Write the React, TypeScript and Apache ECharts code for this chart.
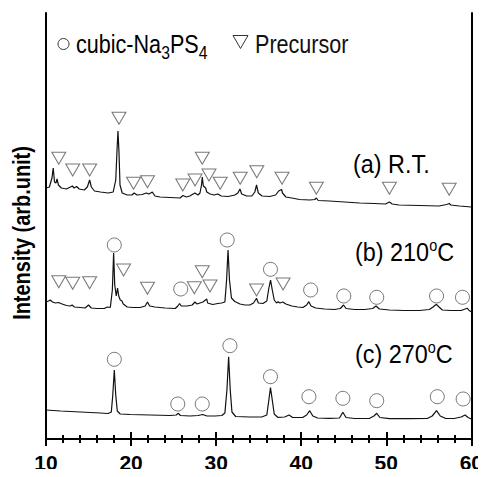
import React, { useEffect, useRef } from "react";
import * as echarts from "echarts";

// 2θ (deg) vs intensity (arb. unit)
const traceRT: number[][] = [
  [10, 251], [10.4, 252], [10.7, 261], [10.85, 271], [11.0, 257], [11.17, 256], [11.3, 260], [11.46, 254],
  [11.8, 251], [12.4, 250], [12.87, 252], [13.1, 253], [13.3, 251], [13.6, 252.5], [13.9, 250], [14.5, 249],
  [14.86, 252], [15.13, 259], [15.33, 252], [15.7, 248], [16.4, 247], [17.3, 246], [17.9, 247], [18.2, 259],
  [18.35, 289], [18.46, 308], [18.58, 287], [18.7, 254], [18.96, 246], [19.55, 244], [20.1, 244], [20.37, 246],
  [20.7, 244], [21.3, 244.5], [21.8, 246], [22.1, 245], [22.5, 247], [22.8, 243], [23.4, 242], [24.6, 241.5],
  [25.76, 241], [26.1, 243.5], [26.5, 242], [26.9, 243], [27.5, 246], [27.87, 244], [28.1, 246], [28.28, 254],
  [28.37, 262], [28.5, 253], [28.77, 251], [28.9, 247], [29.3, 245], [29.75, 244], [30.2, 245], [30.6, 243],
  [31.4, 242.5], [32.2, 244], [32.56, 246], [32.8, 250], [33.0, 245], [33.6, 243], [34.2, 243], [34.55, 247],
  [34.75, 254], [34.96, 246], [35.4, 243], [36.3, 242.5], [37.0, 244], [37.35, 248], [37.7, 249.5], [37.8, 246],
  [38.2, 242], [38.9, 241], [39.8, 239.5], [41.0, 239], [41.6, 239.5], [41.78, 241], [42.0, 238.5], [43.3, 238],
  [45.1, 237], [46.85, 236], [48.6, 235.5], [49.9, 235], [50.37, 237], [50.7, 235], [51.5, 234], [53.9, 233.5],
  [56.2, 233], [57.1, 234.5], [57.4, 235.5], [57.6, 234], [58.6, 233], [60, 232],
];

const trace210: number[][] = [
  [10, 137], [10.3, 138], [10.5, 139], [10.76, 137], [11.1, 136], [11.46, 136.5], [11.9, 135], [12.4, 133.5],
  [12.87, 133], [13.07, 134], [13.34, 132], [14.04, 131.5], [14.6, 131], [15.0, 134], [15.33, 131], [16.0, 130.5],
  [16.85, 130.5], [17.2, 132], [17.56, 131.5], [17.8, 149], [17.95, 186], [18.08, 154], [18.26, 143], [18.41, 151],
  [18.55, 143], [18.73, 139], [18.93, 138], [19.08, 135], [19.55, 132], [20.25, 131.5], [21.07, 131.5], [21.66, 133],
  [21.93, 137], [22.19, 133], [22.8, 132], [24.0, 131], [25.2, 130.5], [25.5, 133], [25.7, 135.5], [25.9, 133],
  [26.6, 133], [27.2, 134], [27.5, 137], [27.75, 135], [28.1, 136], [28.45, 137], [28.9, 140], [29.0, 136],
  [29.6, 134.5], [30.2, 135.5], [30.65, 136], [31.03, 137], [31.23, 159], [31.4, 189], [31.57, 159], [31.8, 141],
  [32.2, 137.5], [32.8, 135], [33.38, 134], [33.96, 134], [34.4, 136], [34.75, 140.7], [34.96, 136], [35.5, 135.5],
  [35.96, 138], [36.2, 151], [36.4, 159], [36.6, 149], [36.83, 139], [37.1, 136], [37.28, 137.3], [37.5, 136],
  [37.83, 137], [38.2, 135], [38.9, 133], [39.6, 132], [40.2, 131.5], [40.64, 134], [40.9, 137.3], [41.16, 133],
  [41.7, 131], [42.75, 130], [43.9, 129.5], [44.6, 130.5], [44.98, 134], [45.27, 130.5], [46.27, 129.5],
  [47.44, 129.5], [48.4, 130.5], [48.8, 133], [49.2, 130], [50.37, 129], [52.1, 128.5], [53.9, 128.5],
  [55.06, 129.5], [55.5, 132], [55.9, 134.7], [56.2, 132], [56.6, 129], [57.6, 128.5], [58.8, 128.5], [59.27, 130],
  [59.54, 130.7], [59.74, 128.5], [60, 127.3],
];

const trace270: number[][] = [
  [10, 29], [11.7, 28], [14.04, 27], [16.4, 26], [17.3, 25.5], [17.68, 27], [17.85, 44], [18.03, 69], [18.2, 44],
  [18.38, 28], [18.73, 25], [19.9, 24.5], [22.25, 24], [24.6, 23.5], [25.3, 24], [25.56, 25.7], [25.8, 23.5],
  [26.93, 23], [27.87, 23.5], [28.42, 24.5], [28.92, 23], [29.86, 23], [30.68, 23.5], [31.03, 26], [31.27, 49],
  [31.47, 82.3], [31.66, 49], [31.86, 27], [32.3, 22.5], [33.96, 22], [35.37, 22], [35.96, 24], [36.2, 39],
  [36.39, 51.3], [36.6, 39], [36.83, 25], [37.24, 21.7], [38.06, 22], [38.57, 24], [39.0, 21.5], [40.17, 21.5],
  [40.64, 24], [41.0, 28.3], [41.37, 23], [41.93, 21], [43.34, 20.7], [44.5, 21], [44.9, 26.7], [45.27, 21.5],
  [46.27, 20.5], [48.0, 20.5], [48.55, 23], [48.88, 25.7], [49.25, 21.5], [50.37, 20.3], [52.7, 20.3],
  [54.82, 20.5], [55.4, 23], [55.91, 28.3], [56.35, 23], [56.93, 20.7], [57.98, 20.5], [58.8, 22], [59.27, 24],
  [59.62, 21.5], [60, 20],
];

// phase markers (position, height)
const precursorRT: number[][] = [
  [11.5, 280.7], [13.14, 269], [15.13, 269], [18.58, 320.7], [20.29, 255.7], [21.93, 257.3], [26.08, 254],
  [27.52, 259], [28.37, 280.7], [29.16, 264], [30.48, 255.7], [32.83, 260.7], [34.78, 267.3], [37.75, 260.7],
  [41.78, 250.7], [50.37, 250.7], [57.4, 249.7],
];
const precursor210: number[][] = [
  [11.5, 157.3], [13.14, 155.7], [15.13, 156.3], [19.12, 169], [21.93, 150.7], [27.44, 151.3], [28.37, 167.3],
  [29.28, 153], [34.75, 149], [37.87, 155],
];
const cubic210: number[][] = [
  [18.03, 194], [25.84, 150], [31.3, 199], [36.39, 169.7], [41.11, 149], [45.01, 143], [48.88, 141.7],
  [55.91, 143], [58.96, 141.7],
];
const cubic270: number[][] = [
  [18.03, 79.7], [25.49, 35], [28.37, 35], [31.62, 93.3], [36.39, 62.3], [40.91, 42.3], [44.9, 40.7],
  [48.88, 38.3], [56.0, 42.3], [59.04, 40],
];

const xTicks = [10, 20, 30, 40, 50, 60];
const yTitle = "Intensity (arb.unit)";
const traceLabels = ["(a) R.T.", "(b) 210", "(c) 270"];
const legendCubic = ["cubic-Na", "3", "PS", "4"];
const legendPrecursor = "Precursor";

const FONT = "'Liberation Sans', Arial, sans-serif";
const NARROW = 0.83;

export default function App() {
  const ref = useRef<HTMLDivElement>(null);
  useEffect(() => {
    if (!ref.current) return;
    const chart = echarts.init(ref.current, null, { renderer: "svg" });
    const lineSeries = (data: number[][]) => ({
      type: "line",
      data,
      showSymbol: false,
      symbol: "none",
      lineStyle: { color: "#111", width: 1.2 },
      z: 2,
    });
    const triSeries = (data: number[][]) => ({
      type: "scatter",
      data,
      symbol: "triangle",
      symbolRotate: 180,
      symbolSize: [14, 12],
      itemStyle: { color: "rgba(0,0,0,0)", borderColor: "#555", borderWidth: 1 },
      z: 3,
    });
    const circSeries = (data: number[][]) => ({
      type: "scatter",
      data,
      symbol: "circle",
      symbolSize: 14,
      itemStyle: { color: "rgba(0,0,0,0)", borderColor: "#555", borderWidth: 1 },
      z: 3,
    });
    const tickAxis = {
      min: 10,
      max: 60,
      interval: 10,
      axisLine: { show: true, lineStyle: { color: "#000", width: 2 } },
      axisTick: { show: true, inside: true, length: 7, lineStyle: { color: "#000", width: 2 } },
      minorTick: { show: true, splitNumber: 5, length: 4, lineStyle: { color: "#000", width: 2 } },
      splitLine: { show: false },
      minorSplitLine: { show: false },
    };
    const labelRich = {
      n: { fontFamily: FONT, fontSize: 26, color: "#111", lineHeight: 30 },
      sup: { fontFamily: FONT, fontSize: 16, color: "#111", verticalAlign: "top", lineHeight: 16 },
    };
    const textEl = (x: number, y: number, text: string) => ({
      type: "text",
      x,
      y,
      scaleX: 0.9,
      style: { text, rich: labelRich, verticalAlign: "middle", align: "left" },
    });
    chart.setOption({
      animation: false,
      grid: { left: 46, right: 13, top: 13, bottom: 38 },
      xAxis: [
        {
          ...tickAxis,
          type: "value",
          position: "bottom",
          axisLabel: {
            show: true,
            margin: 13,
            fontFamily: FONT,
            fontWeight: "bold",
            fontSize: 21,
            color: "#000",
            formatter: (v: number) => (xTicks.includes(v) ? String(v) : ""),
          },
        },
        {
          ...tickAxis,
          type: "value",
          position: "top",
          axisLabel: { show: false },
        },
      ],
      yAxis: [
        {
          type: "value",
          min: 0,
          max: 426,
          position: "left",
          axisLine: { show: true, lineStyle: { color: "#000", width: 2 } },
          axisTick: { show: false },
          axisLabel: { show: false },
          splitLine: { show: false },
        },
        {
          type: "value",
          min: 0,
          max: 426,
          position: "right",
          axisLine: { show: true, lineStyle: { color: "#000", width: 2 } },
          axisTick: { show: false },
          axisLabel: { show: false },
          splitLine: { show: false },
        },
      ],
      series: [
        lineSeries(traceRT),
        lineSeries(trace210),
        lineSeries(trace270),
        triSeries(precursorRT),
        triSeries(precursor210),
        circSeries(cubic210),
        circSeries(cubic270),
      ],
      graphic: [
        {
          type: "text",
          x: 22,
          y: 233,
          rotation: Math.PI / 2,
          scaleX: NARROW,
          style: {
            text: yTitle,
            fontFamily: FONT,
            fontWeight: "bold",
            fontSize: 24,
            fill: "#000",
            align: "center",
            verticalAlign: "middle",
          },
        },
        {
          type: "circle",
          shape: { cx: 63.5, cy: 44, r: 5.5 },
          style: { fill: "none", stroke: "#333", lineWidth: 1 },
        },
        {
          type: "text",
          x: 76,
          y: 46,
          scaleX: NARROW,
          style: {
            text: `{n|${legendCubic[0]}}{s|${legendCubic[1]}}{n|${legendCubic[2]}}{s|${legendCubic[3]}}`,
            verticalAlign: "middle",
            rich: {
              n: { fontFamily: FONT, fontSize: 26, color: "#111", lineHeight: 26, verticalAlign: "top" },
              s: { fontFamily: FONT, fontSize: 19, color: "#111", verticalAlign: "bottom", lineHeight: 31 },
            },
          },
        },
        {
          type: "polygon",
          shape: { points: [[233, 35.5], [248, 35.5], [240.5, 48.5]] },
          style: { fill: "none", stroke: "#333", lineWidth: 1 },
        },
        {
          type: "text",
          x: 255,
          y: 44,
          scaleX: NARROW,
          style: {
            text: legendPrecursor,
            fontFamily: FONT,
            fontSize: 26,
            fill: "#111",
            verticalAlign: "middle",
          },
        },
        textEl(353, 164, `{n|${traceLabels[0]}}`),
        textEl(355, 252, `{n|${traceLabels[1]}}{sup|o}{n|C}`),
        textEl(355, 354, `{n|${traceLabels[2]}}{sup|o}{n|C}`),
      ],
    });
    return () => chart.dispose();
  }, []);
  return <div ref={ref} style={{ width: 486, height: 477, margin: -8 }} />;
}
